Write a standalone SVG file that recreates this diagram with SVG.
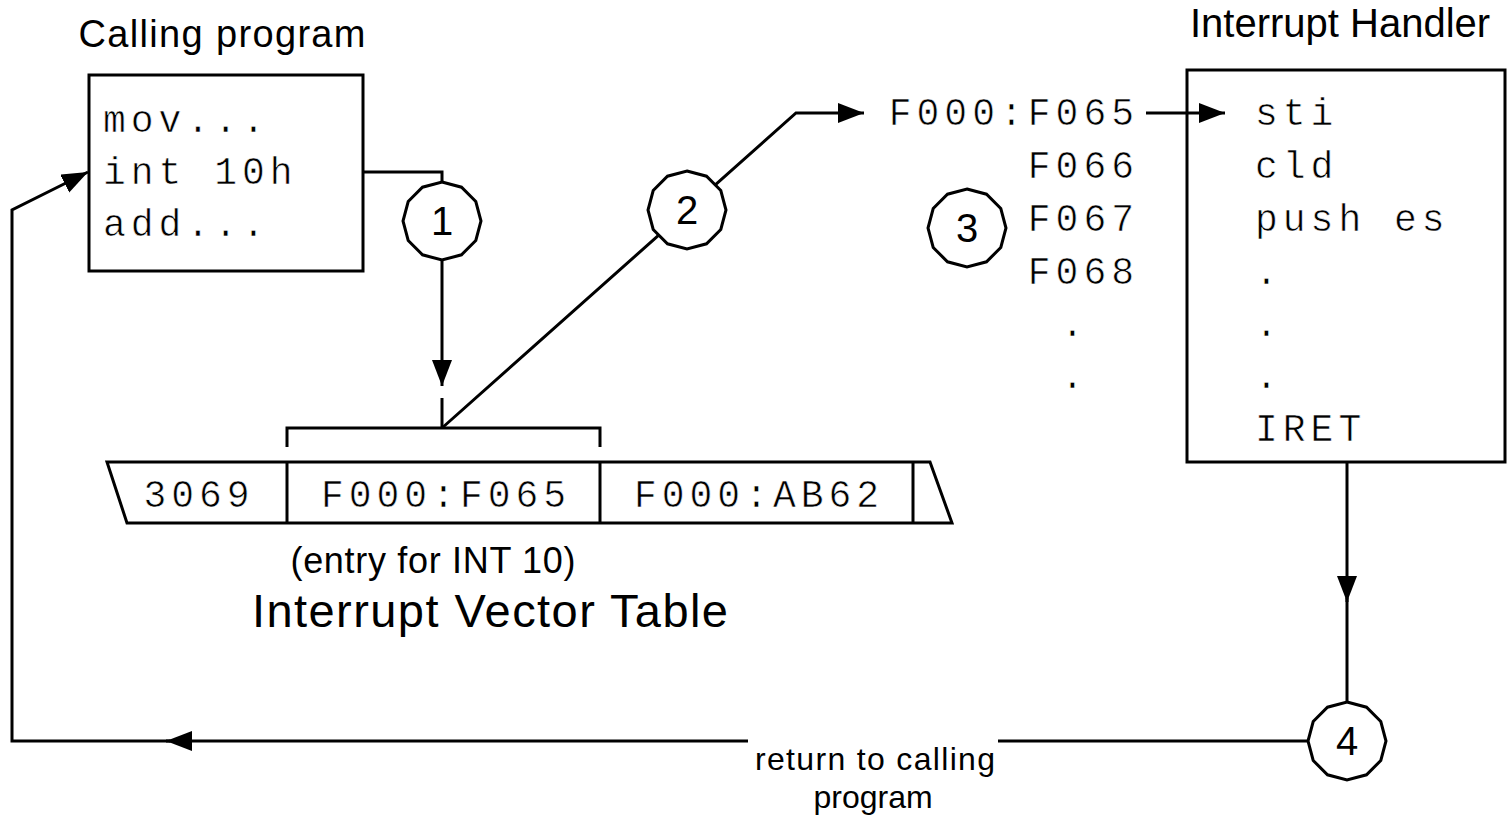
<svg xmlns="http://www.w3.org/2000/svg" width="1509" height="821" viewBox="0 0 1509 821">
<style>
.ln{fill:none;stroke:#000;stroke-width:3}
.box{fill:none;stroke:#000;stroke-width:3}
.mono{font-family:"Liberation Mono",monospace;font-size:38px;letter-spacing:5px;fill:#000;stroke:#fff;stroke-width:0.6px}
.sans{font-family:"Liberation Sans",Arial,sans-serif;fill:#000}
.num{font-family:"Liberation Sans",Arial,sans-serif;font-size:40px;text-anchor:middle;fill:#000}
</style>
<defs>
<marker id="ah" markerUnits="userSpaceOnUse" markerWidth="28" markerHeight="22" refX="26" refY="10" orient="auto">
<path d="M0,0 L26,10 L0,20 Z" fill="#000"/>
</marker>
<polygon id="dodeca" points="0,-39 19.5,-33.8 33.8,-19.5 39,0 33.8,19.5 19.5,33.8 0,39 -19.5,33.8 -33.8,19.5 -39,0 -33.8,-19.5 -19.5,-33.8" fill="#fff" stroke="#000" stroke-width="3"/>
</defs>
<rect width="1509" height="821" fill="#fff"/>

<g id="connectors">
<path class="ln" d="M363,172 H442 V260"/>
<path class="ln" d="M442,260 V386" marker-end="url(#ah)"/>
<path class="ln" d="M442,398 V428"/>
<path class="ln" d="M287,447 V428 H600 V447"/>
<path class="ln" d="M442,428 L796,113 H864" marker-end="url(#ah)"/>
<path class="ln" d="M1146,113 H1225" marker-end="url(#ah)"/>
<path class="ln" d="M1347,462 V602" marker-end="url(#ah)"/>
<path class="ln" d="M1347,598 V741"/>
<path class="ln" d="M1347,741 H998"/>
<path class="ln" d="M748,741 H166" marker-end="url(#ah)"/>
<path class="ln" d="M170,741 H12 V210 L88,172" marker-end="url(#ah)"/>
</g>

<g id="calling-program">
<text class="sans" x="222" y="47" font-size="38" text-anchor="middle" textLength="287">Calling program</text>
<rect class="box" x="89" y="75" width="274" height="196"/>
<text class="mono" x="103" y="132">mov...</text>
<text class="mono" x="103" y="184">int 10h</text>
<text class="mono" x="103" y="236">add...</text>
</g>

<g id="step1"><use href="#dodeca" x="442" y="221"/><text class="num" x="442" y="235">1</text></g>
<g id="step2"><use href="#dodeca" x="687" y="210"/><text class="num" x="687" y="224">2</text></g>
<g id="step3"><use href="#dodeca" x="967" y="228"/><text class="num" x="967" y="242">3</text></g>
<g id="step4"><use href="#dodeca" x="1347" y="741"/><text class="num" x="1347" y="755">4</text></g>

<g id="vector-table">
<polygon class="box" points="107,462 930,462 952,523 127,523"/>
<path class="ln" d="M287,462 V523 M600,462 V523 M913,462 V523"/>
<text class="mono" x="199" y="507" text-anchor="middle">3069</text>
<text class="mono" x="446" y="507" text-anchor="middle">F000:F065</text>
<text class="mono" x="759" y="507" text-anchor="middle">F000:AB62</text>
<text class="sans" x="433" y="573" font-size="36" text-anchor="middle" textLength="285">(entry for INT 10)</text>
<text class="sans" x="490" y="627" font-size="47" text-anchor="middle" textLength="476">Interrupt Vector Table</text>
</g>

<g id="addresses">
<text class="mono" x="1139" y="125" text-anchor="end">F000:F065</text>
<text class="mono" x="1139" y="178" text-anchor="end">F066</text>
<text class="mono" x="1139" y="231" text-anchor="end">F067</text>
<text class="mono" x="1139" y="284" text-anchor="end">F068</text>
<text class="mono" x="1075" y="336" text-anchor="middle">.</text>
<text class="mono" x="1075" y="388" text-anchor="middle">.</text>
</g>

<g id="interrupt-handler">
<text class="sans" x="1340" y="37" font-size="40" text-anchor="middle">Interrupt Handler</text>
<rect class="box" x="1187" y="70" width="318" height="392"/>
<text class="mono" x="1255" y="125">sti</text>
<text class="mono" x="1255" y="178">cld</text>
<text class="mono" x="1255" y="231">push es</text>
<text class="mono" x="1255" y="284">.</text>
<text class="mono" x="1255" y="336">.</text>
<text class="mono" x="1255" y="388">.</text>
<text class="mono" x="1255" y="441">IRET</text>
</g>

<g id="return-label">
<text class="sans" x="875" y="770" font-size="32" text-anchor="middle" textLength="240">return to calling</text>
<text class="sans" x="873" y="808" font-size="32" text-anchor="middle">program</text>
</g>
</svg>
